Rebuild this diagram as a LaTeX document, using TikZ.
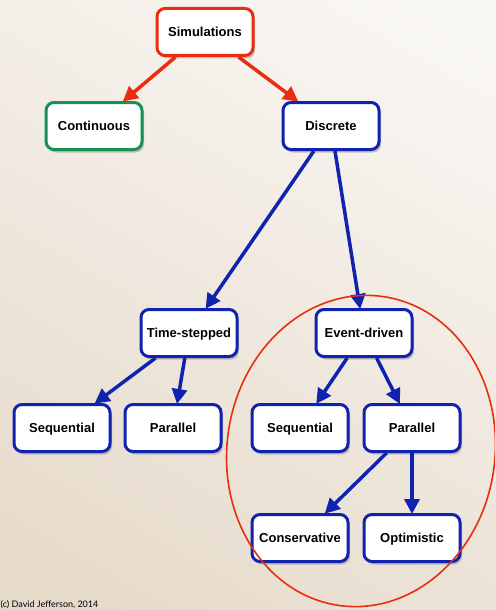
\documentclass[tikz,border=0pt]{standalone}
\usepackage{fontspec}
\setmainfont{Liberation Sans}
\newfontfamily\credfont{Lato}
\usetikzlibrary{arrows.meta,shadows}
\definecolor{bgtl}{RGB}{249,247,244}
\definecolor{bgbr}{RGB}{230,218,202}
\definecolor{redc}{RGB}{232,46,14}
\definecolor{bluec}{RGB}{16,34,176}
\definecolor{greenc}{RGB}{22,146,86}
\tikzset{
  box/.style={draw=bluec, line width=3pt, fill=white, rounded corners=8pt,
    minimum width=96pt, minimum height=47pt, inner sep=0pt,
    text height=9.3pt, text depth=0pt,
    font=\fontsize{13pt}{15pt}\selectfont\bfseries,
    drop shadow={shadow xshift=2pt, shadow yshift=-3pt, opacity=0.35, fill=black!60}},
  redbox/.style={box, draw=redc},
  greenbox/.style={box, draw=greenc},
  conn/.style={line width=3.5pt, draw=bluec, -{Triangle[length=15pt,width=15pt]}, shorten >=-1pt},
  redconn/.style={conn, draw=redc},
}
\begin{document}
\begin{tikzpicture}[x=1pt,y=-1pt]
\useasboundingbox (0,0) rectangle (495,610);
\shade[top color=bgtl, bottom color=bgbr, shading angle=-30] (-60,-60) rectangle (555,670);
\clip (0,0) rectangle (495,610);
\node[redbox] (sim) at (205,32) {Simulations};
\node[greenbox] (cont) at (94,126) {Continuous};
\node[box] (disc) at (331,126) {Discrete};
\node[box] (ts) at (189,333) {Time-stepped};
\node[box] (ed) at (364,333) {Event-driven};
\node[box] (seq1) at (62,428) {Sequential};
\node[box] (par1) at (173,428) {Parallel};
\node[box] (seq2) at (300,428) {Sequential};
\node[box] (par2) at (412,428) {Parallel};
\node[box] (cons) at (300,538) {Conservative};
\node[box] (opt) at (412,538) {Optimistic};
\draw[redconn] (sim) -- (cont);
\draw[redconn] (sim) -- (disc);
\draw[conn] (disc) -- (ts);
\draw[conn] (disc) -- (ed);
\draw[conn] (ts) -- (seq1);
\draw[conn] (ts) -- (par1);
\draw[conn] (ed) -- (seq2);
\draw[conn] (ed) -- (par2);
\draw[conn] (par2) -- (cons);
\draw[conn] (par2) -- (opt);
\draw[redc, line width=1.6pt, rotate around={-8:(361,451)}] (361,451) ellipse [x radius=134, y radius=156];
\node[anchor=base west, inner sep=0pt, font=\credfont\fontsize{9pt}{10pt}\selectfont] (cred) at (0.5,607) {(c) David Jefferson, 2014};
\end{tikzpicture}
\end{document}
